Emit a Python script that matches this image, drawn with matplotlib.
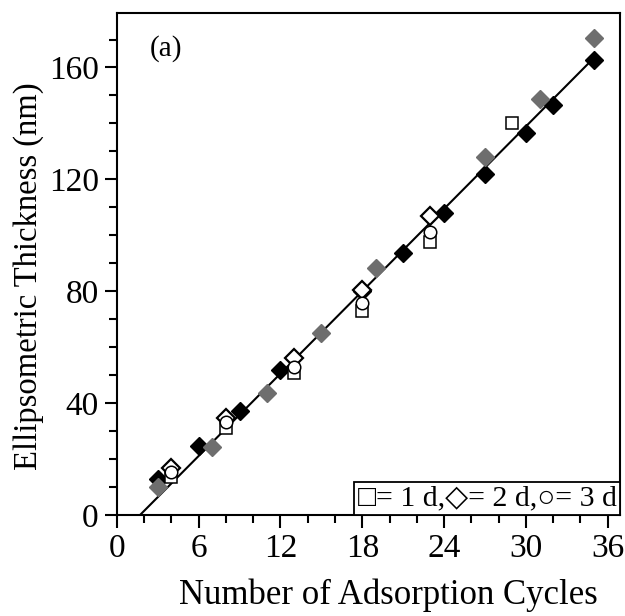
import matplotlib.pyplot as plt
from matplotlib.offsetbox import AnchoredText

# thickness vs. adsorption cycles
black_x = [3, 6, 9, 12, 18, 21, 24, 27, 30, 32, 35]
black_y = [13, 24.5, 37, 51.7, 80, 93.6, 108, 122, 136.5, 146.5, 162.5]

gray_x = [3, 7, 11, 15, 19, 27, 31, 35]
gray_y = [10, 24.3, 43.7, 65, 88.3, 128, 148.8, 170.5]

# open symbols: 1 d (squares), 2 d (diamonds), 3 d (circles)
sq_x = [4, 8, 13, 18, 23, 29]
sq_y = [13.6, 31, 50.6, 72.8, 97.6, 140.3]
dia_x = [4, 8, 13, 18, 23]
dia_y = [16.8, 34.6, 56, 80.3, 107]
circ_x = [4, 8, 13, 18, 23]
circ_y = [15.4, 33.2, 53, 75.8, 101.3]

# linear fit line
fit_x = [1.7, 34.8]
fit_y = [0, 162.5]

plt.rcParams['font.family'] = ['Liberation Serif', 'DejaVu Sans']

fig = plt.figure(figsize=(6.25, 6.16), dpi=100)
ax = fig.add_axes([0.187, 0.164, 0.805, 0.815])

ax.plot(fit_x, fit_y, color='black', lw=1.5, zorder=2)
ax.plot(black_x, black_y, 'D', color='black', ms=9, mec='black', zorder=3)
ax.plot(gray_x, gray_y, 'D', color='#6e6e6e', ms=9, mec='#6e6e6e', zorder=3)
ax.plot(sq_x, sq_y, 's', mfc='white', mec='black', mew=1.1, ms=8.5, zorder=4)
ax.plot(dia_x, dia_y, 'D', mfc='white', mec='black', mew=1.6, ms=9, zorder=5)
ax.plot(circ_x, circ_y, 'o', mfc='white', mec='black', mew=1.1, ms=9, zorder=6)

ax.set_xlim(0, 36.9)
ax.set_ylim(0, 179.5)
ax.set_xticks(range(0, 37, 6))
ax.set_xticks(range(0, 37, 2), minor=True)
ax.set_yticks(range(0, 161, 40))
ax.set_yticks(range(0, 180, 10), minor=True)
ax.tick_params(which='both', direction='out', width=1.5, labelsize=24, top=False, right=False)
ax.tick_params(which='major', length=9, pad=4)
ax.tick_params(which='minor', length=5.5)
for s in ax.spines.values():
    s.set_linewidth(1.5)

ax.set_xlabel('Number of Adsorption Cycles', fontsize=25)
ax.set_ylabel('Ellipsometric Thickness (nm)', fontsize=23.5)
ax.xaxis.set_label_coords(0.539, -0.126)
ax.yaxis.set_label_coords(-0.145, 0.475)

ax.text(0.065, 0.93, '(a)', transform=ax.transAxes, fontsize=21, va='center')

leg = AnchoredText('\u25a1= 1 d,\u25c7= 2 d,\u25cb= 3 d', loc='lower right',
                   prop=dict(size=21.5, family=['Liberation Serif', 'DejaVu Sans']),
                   frameon=True, borderpad=0, pad=0.12)
leg.patch.set_linewidth(1.3)
leg.patch.set_boxstyle('square', pad=0)
ax.add_artist(leg)

fig.savefig('out.png', dpi=100)
